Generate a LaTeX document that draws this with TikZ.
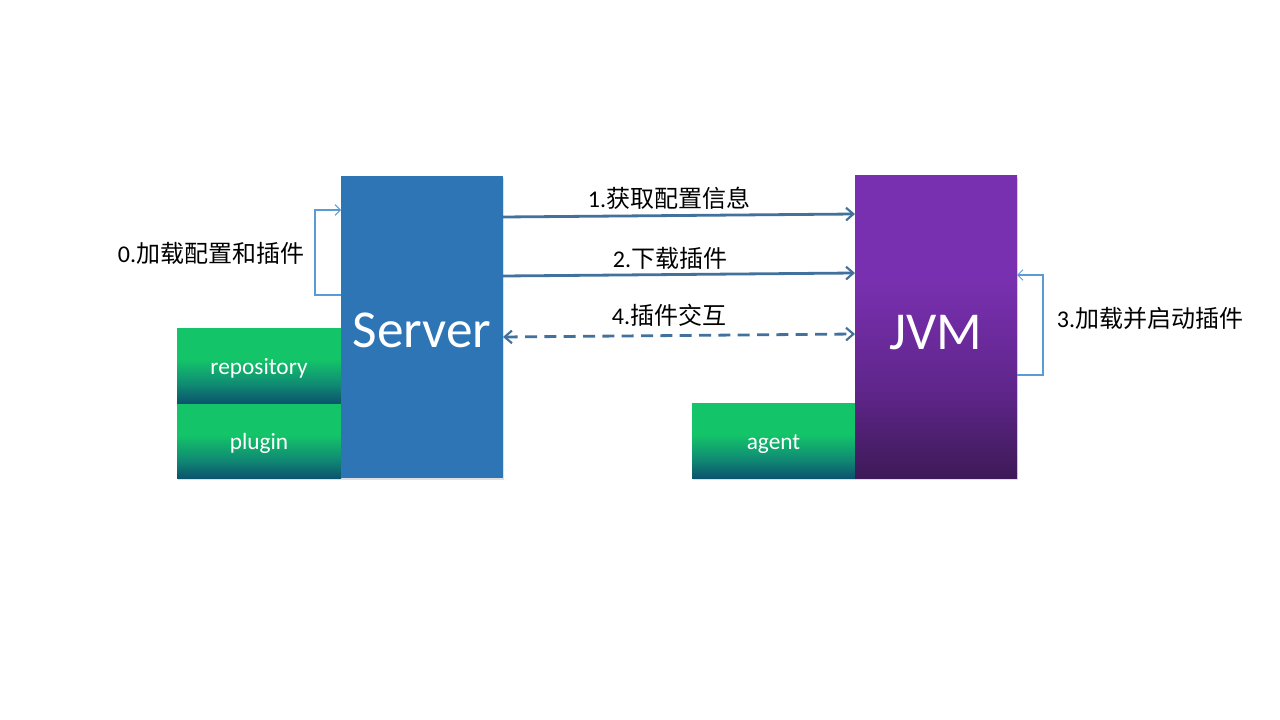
\documentclass[tikz,border=0pt]{standalone}
\usepackage{fontspec}
\setmainfont{Carlito}
\newfontfamily\cjk{Noto Sans CJK SC}
\usetikzlibrary{arrows.meta,calc,shadows}
\definecolor{srvc}{RGB}{46,117,182}
\definecolor{gTop}{RGB}{19,196,104}
\definecolor{gMid}{RGB}{16,140,115}
\definecolor{gBot}{RGB}{11,84,108}
\definecolor{pTop}{RGB}{121,48,176}
\definecolor{pMid}{RGB}{96,38,140}
\definecolor{pBot}{RGB}{62,26,88}
\definecolor{arrc}{RGB}{65,113,156}
\definecolor{loopc}{RGB}{91,155,213}
\pgfdeclareverticalshading{greensh}{100bp}{color(0bp)=(gBot); color(25bp)=(gBot); color(38bp)=(gMid); color(54bp)=(gTop); color(75bp)=(gTop); color(100bp)=(gTop)}
\pgfdeclareverticalshading{purplesh}{100bp}{color(0bp)=(pBot); color(25bp)=(pBot); color(40bp)=(pMid); color(58bp)=(pTop); color(75bp)=(pTop); color(100bp)=(pTop)}
\tikzset{
  box/.style={rectangle, inner sep=0pt, outer sep=0pt, text=white,
    drop shadow={shadow xshift=1pt, shadow yshift=-1.5pt, opacity=0.25}},
  bigbox/.style={box, minimum width={162*0.75pt}, minimum height={302*0.75pt},
    font=\fontsize{40}{48}\selectfont, text depth=0pt},
  greenbox/.style={box, shading=greensh, minimum width={164*0.75pt},
    font=\fontsize{17.5}{21}\selectfont, text height=14pt, text depth=0.6pt},
  flow/.style={draw=arrc, line width=2.1pt, -{Straight Barb[length=5.5pt,width=9.5pt,line width=1.6pt]}},
  loopline/.style={draw=loopc, line width=0.8pt, -{Straight Barb[length=4pt,width=8pt,line width=0.7pt]}},
  lbl/.style={font=\fontsize{18}{22}\selectfont, text=black, inner sep=1pt}
}
\newcommand{\zhl}[2]{{\rmfamily #1}{\cjk #2}}
\begin{document}
\begin{tikzpicture}[x=0.75pt,y=-0.75pt]
\useasboundingbox (0,0) rectangle (1280,720);
% boxes
\node[greenbox, minimum height={75*0.75pt}] (repo) at (259,365.5) {repository};
\node[greenbox, minimum height={74*0.75pt}] (plug) at (259,441) {plugin};
\node[greenbox, minimum width={163*0.75pt}, minimum height={75*0.75pt}] (agent) at (773.5,440.5) {agent};
\node[bigbox, fill=srvc, text height=30.4pt] (srv) at (422,327) {Server};
\node[bigbox, shading=purplesh, text height=34pt] (jvm) at (936,327) {JVM};
% arrows
\draw[flow] ($(srv.north east)+(0,41)$) -- ($(jvm.north west)+(0,38)$);
\draw[flow] ($(srv.north east)+(0,100)$) -- ($(jvm.north west)+(0,97)$);
\draw[draw=arrc, line width=2.1pt, dash pattern=on 9pt off 5.5pt,
  {Straight Barb[length=5.5pt,width=9.5pt,line width=1.6pt]}-{Straight Barb[length=5.5pt,width=9.5pt,line width=1.6pt]}]
  ($(srv.north east)+(0,161)$) -- ($(jvm.north west)+(0,158)$);
% labels
\node[lbl] (l1) at (669,198) {\zhl{1.}{获取配置信息}};
\node[lbl] (l2) at (670,258) {\zhl{2.}{下载插件}};
\node[lbl] (l4) at (669,315) {\zhl{4.}{插件交互}};
% loops
\draw[loopline] ($(srv.north west)+(0,119)$) -- ++(-26,0) |- ($(srv.north west)+(0,34)$);
\draw[loopline] ($(jvm.north east)+(0,199)$) -- ++(26,0) |- ($(jvm.north east)+(0,99)$);
\node[lbl] (l0) at (211,253) {\zhl{0.}{加载配置和插件}};
\node[lbl] (l3) at (1150,318) {\zhl{3.}{加载并启动插件}};
\end{tikzpicture}
\end{document}
